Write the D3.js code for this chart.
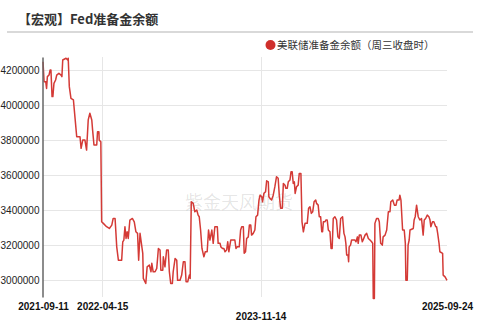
<!DOCTYPE html>
<html>
<head>
<meta charset="utf-8">
<script src="https://cdn.jsdelivr.net/npm/d3@7"></script>
<style>
  body { margin: 0; background: #fff; }
  svg { display: block; }
</style>
</head>
<body>
<div id="chart"></div>
<script>
const title = "【宏观】Fed准备金余额";
const seriesName = "美联储准备金余额（周三收盘时）";
const watermark = "紫金天风期货";

const xTickLabels = ["2021-09-11", "2022-04-15", "2023-11-14", "2025-09-24"];
const yTickValues = [3000000, 3200000, 3400000, 3600000, 3800000, 4000000, 4200000];

// weekly reserve balances
const dates = [
  "2021-09-11","2021-09-15","2021-09-21","2021-09-24","2021-09-27","2021-10-03","2021-10-07","2021-10-10",
  "2021-10-14","2021-10-17","2021-10-21","2021-10-27","2021-10-31","2021-11-08","2021-11-16","2021-11-19",
  "2021-11-22","2021-12-04","2021-12-10","2021-12-12","2021-12-16","2021-12-22","2021-12-31","2022-01-06",
  "2022-01-12","2022-01-24","2022-01-28","2022-02-03","2022-02-11","2022-02-17","2022-02-23","2022-03-01",
  "2022-03-08","2022-03-11","2022-03-16","2022-03-26","2022-03-29","2022-04-03","2022-04-04","2022-04-10",
  "2022-04-13","2022-04-19","2022-05-01","2022-05-11","2022-05-20","2022-05-25","2022-06-01","2022-06-07",
  "2022-06-13","2022-06-25","2022-06-29","2022-07-03","2022-07-07","2022-07-11","2022-07-15","2022-07-19",
  "2022-07-25","2022-08-03","2022-08-10","2022-08-16","2022-08-22","2022-08-26","2022-08-31","2022-09-10",
  "2022-09-12","2022-09-21","2022-09-26","2022-10-04","2022-10-10","2022-10-13","2022-10-18","2022-10-25",
  "2022-10-31","2022-11-06","2022-11-12","2022-11-15","2022-11-22","2022-11-24","2022-11-30","2022-12-06",
  "2022-12-12","2022-12-16","2022-12-21","2022-12-27","2022-12-30","2023-01-06","2023-01-12","2023-01-15",
  "2023-01-24","2023-01-30","2023-02-05","2023-02-11","2023-02-15","2023-02-21","2023-02-27","2023-03-02",
  "2023-03-06","2023-03-13","2023-03-19","2023-03-26","2023-03-31","2023-04-04","2023-04-09","2023-04-14",
  "2023-04-21","2023-04-26","2023-05-03","2023-05-08","2023-05-13","2023-05-20","2023-05-25","2023-05-31",
  "2023-06-09","2023-06-12","2023-06-19","2023-06-22","2023-06-28","2023-07-03","2023-07-07","2023-07-13",
  "2023-07-17","2023-07-21","2023-07-28","2023-08-12","2023-08-16","2023-08-21","2023-08-28","2023-09-02",
  "2023-09-06","2023-09-12","2023-09-15","2023-09-20","2023-09-24","2023-09-30","2023-10-04","2023-10-09",
  "2023-10-12","2023-10-18","2023-10-24","2023-10-28","2023-11-03","2023-11-08","2023-11-12","2023-11-18",
  "2023-11-21","2023-11-26","2023-12-02","2023-12-06","2023-12-12","2023-12-14","2023-12-18","2023-12-24",
  "2023-12-30","2024-01-05","2024-01-11","2024-01-17","2024-01-21","2024-01-26","2024-02-01","2024-02-05",
  "2024-02-11","2024-02-14","2024-02-19","2024-02-23","2024-02-29","2024-03-04","2024-03-08","2024-03-12",
  "2024-03-16","2024-03-19","2024-03-24","2024-03-30","2024-04-03","2024-04-09","2024-04-13","2024-04-18",
  "2024-04-24","2024-05-02","2024-05-07","2024-05-12","2024-05-17","2024-05-22","2024-05-27","2024-06-02",
  "2024-06-05","2024-06-11","2024-06-15","2024-06-20","2024-06-24","2024-06-27","2024-06-30","2024-07-06",
  "2024-07-09","2024-07-14","2024-07-18","2024-07-24","2024-07-28","2024-08-01","2024-08-05","2024-08-11",
  "2024-08-17","2024-08-22","2024-08-27","2024-09-01","2024-09-08","2024-09-13","2024-09-17","2024-09-20",
  "2024-09-23","2024-09-28","2024-09-30","2024-10-02","2024-10-07","2024-10-11","2024-10-23","2024-10-27",
  "2024-11-01","2024-11-04","2024-11-08","2024-11-14","2024-11-19","2024-11-22","2024-11-29","2024-12-05",
  "2024-12-11","2024-12-17","2024-12-23","2024-12-27","2024-12-29","2025-01-02","2025-01-04","2025-01-10",
  "2025-01-16","2025-01-20","2025-01-25","2025-01-31","2025-02-03","2025-02-10","2025-02-16","2025-02-22",
  "2025-02-28","2025-03-03","2025-03-10","2025-03-16","2025-03-22","2025-03-26","2025-04-02","2025-04-05",
  "2025-04-09","2025-04-15","2025-04-21","2025-04-25","2025-04-27","2025-05-02","2025-05-05","2025-05-09",
  "2025-05-12","2025-05-24","2025-05-27","2025-05-31","2025-06-05","2025-06-11","2025-06-17","2025-06-23",
  "2025-06-29","2025-07-03","2025-07-08","2025-07-14","2025-07-20","2025-07-24","2025-07-27","2025-08-02",
  "2025-08-07","2025-08-14","2025-08-17","2025-08-21","2025-08-26","2025-08-29","2025-09-08","2025-09-10",
  "2025-09-17","2025-09-24"
];
const reserves = [
  4247000,4133000,4133000,4095000,4162000,4171000,4200000,4200000,
  4048000,4048000,4124000,4143000,4171000,4181000,4171000,4162000,
  4257000,4267000,4257000,4267000,4105000,4038000,4029000,3924000,
  3819000,3819000,3753000,3800000,3800000,3743000,3915000,3953000,
  3915000,3857000,3772000,3772000,3848000,3848000,3800000,3791000,
  3334000,3325000,3306000,3296000,3315000,3353000,3353000,3191000,
  3115000,3115000,3220000,3230000,3306000,3239000,3277000,3239000,
  3344000,3353000,3334000,3277000,3268000,3115000,3268000,3154000,
  3011000,2982000,3077000,3087000,3049000,3097000,3049000,3049000,
  3068000,3182000,3173000,3058000,3058000,3134000,3077000,3173000,
  3173000,3049000,2982000,2982000,3049000,3125000,3115000,3000000,
  3000000,3030000,3106000,3106000,2992000,2992000,3030000,3011000,
  3448000,3439000,3391000,3401000,3372000,3363000,3287000,3182000,
  3134000,3163000,3163000,3287000,3230000,3287000,3211000,3306000,
  3306000,3211000,3211000,3191000,3182000,3182000,3163000,3173000,
  3220000,3163000,3230000,3230000,3182000,3191000,3191000,3287000,
  3306000,3306000,3154000,3163000,3239000,3248000,3315000,3315000,
  3258000,3268000,3287000,3363000,3372000,3458000,3486000,3477000,
  3448000,3496000,3505000,3568000,3562000,3477000,3468000,3458000,
  3486000,3534000,3591000,3582000,3486000,3411000,3411000,3553000,
  3543000,3525000,3525000,3562000,3572000,3620000,3620000,3553000,
  3562000,3496000,3534000,3543000,3610000,3610000,3334000,3277000,
  3325000,3325000,3411000,3420000,3382000,3391000,3448000,3458000,
  3439000,3429000,3363000,3363000,3277000,3277000,3334000,3334000,
  3344000,3344000,3287000,3277000,3182000,3182000,3353000,3363000,
  3344000,3248000,3239000,3353000,3363000,3268000,3248000,3211000,
  3144000,3144000,3106000,3191000,3201000,3230000,3230000,3220000,
  3248000,3211000,3258000,3258000,3220000,3230000,3258000,3268000,
  3239000,3230000,3220000,3211000,2897000,2897000,3325000,3353000,
  3353000,3334000,3211000,3201000,3248000,3258000,3287000,3391000,
  3391000,3448000,3458000,3429000,3429000,3458000,3458000,3486000,
  3458000,3287000,3287000,3211000,3000000,3000000,3201000,3230000,
  3287000,3296000,3344000,3363000,3429000,3363000,3344000,3353000,
  3258000,3344000,3353000,3372000,3363000,3344000,3306000,3334000,
  3334000,3306000,3306000,3268000,3211000,3163000,3154000,3030000,
  3020000,3000000
];

const width = 477, height = 326;
const plotLeft = 43, plotRight = 447, plotTop = 57, plotBottom = 297;
const parseDate = d3.timeParse("%Y-%m-%d");
const data = dates.map((d, i) => ({ date: parseDate(d), value: reserves[i] }));

const svg = d3.select('#chart')
  .append('svg')
  .attr('width', width)
  .attr('height', height)
  .style('background', '#fff');

// title + divider
svg.append('text')
  .attr('x', 18)
  .attr('y', 24)
  .attr('fill', '#333')
  .style('font', 'bold 13px "Noto Sans CJK SC", sans-serif')
  .text(title);
svg.append('line')
  .attr('x1', 7).attr('x2', 473)
  .attr('y1', 32).attr('y2', 32)
  .attr('stroke', '#d9d9d9')
  .attr('stroke-width', 2);

// legend
svg.append('circle')
  .attr('cx', 270.5).attr('cy', 45).attr('r', 5)
  .attr('fill', '#cf2f2b');
svg.append('text')
  .attr('x', 277)
  .attr('y', 49)
  .attr('fill', '#333')
  .style('font', '10.5px "Noto Sans CJK SC", sans-serif')
  .text(seriesName);

const x = d3.scaleTime()
  .domain([parseDate(xTickLabels[0]), parseDate(xTickLabels[xTickLabels.length - 1])])
  .range([plotLeft, plotRight]);
const y = d3.scaleLinear()
  .domain([2905000, 4274000])
  .range([plotBottom, plotTop]);

// grid
svg.append('g').selectAll('line')
  .data(yTickValues)
  .enter().append('line')
    .attr('x1', plotLeft).attr('x2', plotRight)
    .attr('y1', d => Math.round(y(d)) + 0.5)
    .attr('y2', d => Math.round(y(d)) + 0.5)
    .attr('stroke', '#e6e6e6');
svg.append('g').selectAll('line')
  .data(xTickLabels.slice(1, 3))
  .enter().append('line')
    .attr('x1', d => Math.round(x(parseDate(d))) + 0.5)
    .attr('x2', d => Math.round(x(parseDate(d))) + 0.5)
    .attr('y1', plotTop).attr('y2', plotBottom)
    .attr('stroke', '#e6e6e6');

// watermark
svg.append('text')
  .attr('x', 239)
  .attr('y', 209)
  .attr('text-anchor', 'middle')
  .attr('fill', 'rgba(0,0,0,0.11)')
  .style('font', '18px "Noto Sans CJK SC", sans-serif')
  .text(watermark);

// series
svg.append('path')
  .datum(data)
  .attr('fill', 'none')
  .attr('stroke', '#d43a36')
  .attr('stroke-width', 1.5)
  .attr('stroke-linejoin', 'round')
  .attr('d', d3.line()
    .x(d => x(d.date))
    .y(d => y(d.value)));

// y axis
const yAxis = svg.append('g')
  .attr('transform', `translate(${plotLeft - 0.5},0)`)
  .call(d3.axisLeft(y)
    .tickValues(yTickValues)
    .tickSize(0)
    .tickPadding(3)
    .tickFormat(d3.format('d')));
yAxis.select('.domain').attr('stroke', '#666').attr('stroke-width', 1.5);
yAxis.selectAll('text')
  .attr('fill', '#222')
  .style('font', '10px "Liberation Sans", Arial, sans-serif');

// x axis, third label staggered down
const xAxis = svg.append('g')
  .attr('transform', `translate(0,${plotBottom})`)
  .call(d3.axisBottom(x)
    .tickValues(xTickLabels.map(parseDate))
    .tickSize(0)
    .tickPadding(6)
    .tickFormat(d3.timeFormat('%Y-%m-%d')));
xAxis.select('.domain').remove();
xAxis.selectAll('text')
  .attr('fill', '#111')
  .style('font', 'bold 10px "Liberation Sans", Arial, sans-serif')
  .attr('transform', (d, i) => i === 2 ? 'translate(0,10)' : null);
</script>
</body>
</html>
